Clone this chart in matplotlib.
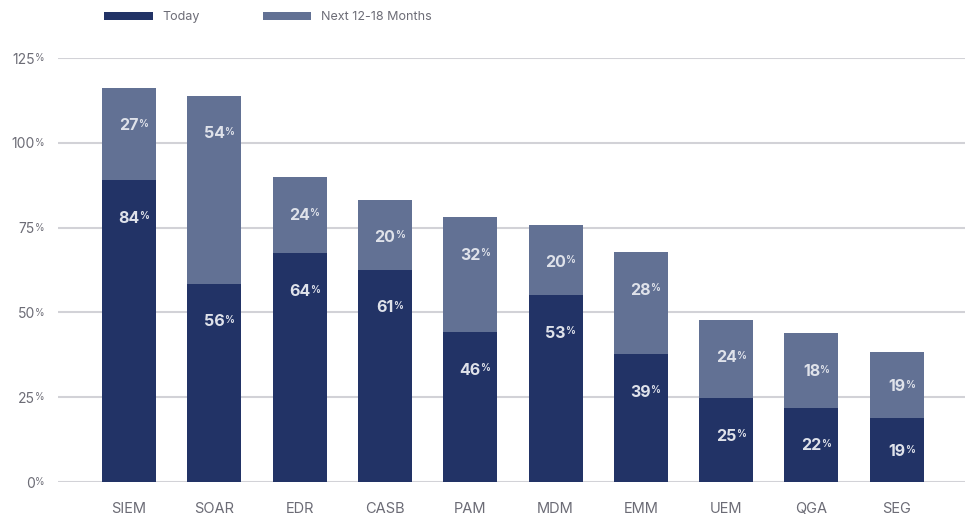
import matplotlib
matplotlib.use("Agg")
import matplotlib.pyplot as plt
from matplotlib.patches import Patch

plt.rcParams['font.family'] = ['Inter', 'DejaVu Sans']

categories = ["SIEM", "SOAR", "EDR", "CASB", "PAM", "MDM", "EMM", "UEM", "QGA", "SEG"]
# bar heights as drawn in the picture
today_vals = [89.0, 58.4, 67.4, 62.5, 44.2, 55.1, 37.7, 24.7, 21.9, 19.0]
next_vals = [27.2, 55.4, 22.5, 20.6, 33.9, 20.7, 30.1, 23.1, 21.9, 19.3]
# printed labels
today_labels = ["84", "56", "64", "61", "46", "53", "39", "25", "22", "19"]
next_labels = ["27", "54", "24", "20", "32", "20", "28", "24", "18", "19"]
yticks = [0, 25, 50, 75, 100, 125]
series_names = ["Today", "Next 12-18 Months"]

c_today = "#223366"
c_next = "#627194"
c_grid = "#d2d2d7"
c_text = "#6c6c76"
c_lbl = "#dfe2ea"

fig = plt.figure(figsize=(9.73, 5.19), dpi=100)
ax = fig.add_axes([58/973, 1-482/519, (965-58)/973, (482-58)/519])

x = list(range(len(categories)))
w = 0.633
ax.bar(x, today_vals, width=w, color=c_today, zorder=2)
ax.bar(x, next_vals, width=w, bottom=today_vals, color=c_next, zorder=2)

ax.set_xlim(-0.832, 9.80)
ax.set_ylim(0, 125)
ax.set_yticks(yticks)
ax.set_yticklabels([str(t) for t in yticks])
ax.set_xticks(x)
ax.set_xticklabels(categories)
for s in ax.spines.values():
    s.set_visible(False)
ax.yaxis.grid(True, color=c_grid, lw=1.5, zorder=0)
ax.set_axisbelow(True)
ax.tick_params(axis='y', length=0, pad=16.5, labelsize=10, labelcolor=c_text)
ax.tick_params(axis='x', length=0, pad=14.5, labelsize=10.5, labelcolor=c_text)

for lab in ax.get_yticklabels():
    ax.annotate("%", xy=(1, 1), xycoords=lab, xytext=(-0.3, -0.5), textcoords='offset points',
                ha='left', va='top', fontsize=7, color=c_text)


def put_label(xc, bottom, h, txt):
    top = bottom + h
    y = max(bottom + h / 2, top - 10.6) - 0.6
    t = ax.text(xc, y, txt, ha='center', va='center', fontsize=11.5, fontweight='bold',
                color=c_lbl, zorder=3)
    ax.annotate("%", xy=(1, 1), xycoords=t, xytext=(-0.4, -0.5), textcoords='offset points',
                ha='left', va='top', fontsize=7, fontweight='bold', color=c_lbl, zorder=3)


for i in x:
    put_label(i, 0, today_vals[i], today_labels[i])
    put_label(i, today_vals[i], next_vals[i], next_labels[i])

handles = [Patch(facecolor=c_today, edgecolor='none'), Patch(facecolor=c_next, edgecolor='none')]
fig.legend(handles, series_names, loc='upper left', bbox_to_anchor=(104/973, 1-11/519),
           ncol=2, frameon=False, fontsize=9, labelcolor=c_text,
           handlelength=3.9, handleheight=0.6, handletextpad=0.8, columnspacing=5.0,
           borderpad=0, borderaxespad=0)

fig.savefig("out.png", dpi=100)
